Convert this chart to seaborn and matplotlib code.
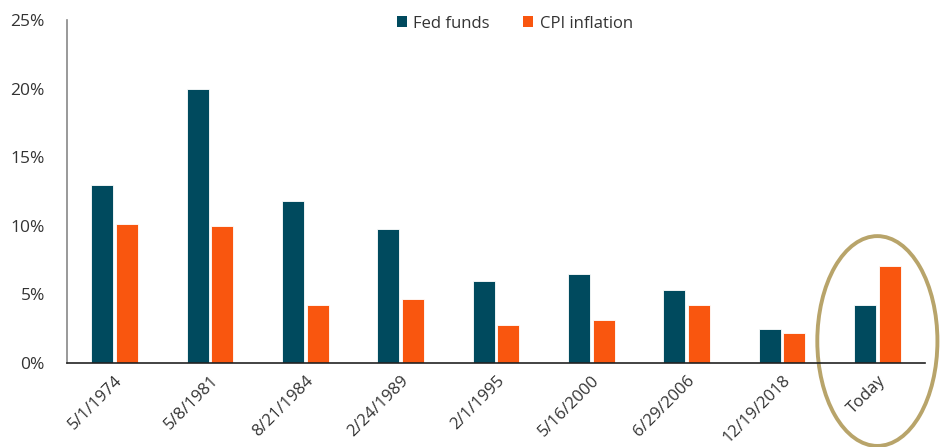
import matplotlib
matplotlib.use("Agg")
import matplotlib.pyplot as plt
from matplotlib.patches import Ellipse, Patch
from matplotlib.ticker import FuncFormatter
import seaborn as sns
import pandas as pd

dates = ["5/1/1974", "5/8/1981", "8/21/1984", "2/24/1989", "2/1/1995",
         "5/16/2000", "6/29/2006", "12/19/2018", "Today"]
fed_funds = [13.0, 20.0, 11.8, 9.8, 6.0, 6.5, 5.3, 2.5, 4.25]
cpi_inflation = [10.1, 10.0, 4.2, 4.7, 2.8, 3.1, 4.2, 2.2, 7.1]
series_names = ["Fed funds", "CPI inflation"]
colors = ["#004A5E", "#F9560F"]

df = pd.DataFrame({
    "date": dates * 2,
    "value": fed_funds + cpi_inflation,
    "series": [series_names[0]] * len(dates) + [series_names[1]] * len(dates),
})

sns.set_theme(style="white")
plt.rcParams["font.family"] = ["Open Sans", "DejaVu Sans"]

fig = plt.figure(figsize=(9.47, 4.47), dpi=100)
ax = fig.add_axes([0.0708, 0.188, 0.906, 0.767])

sns.barplot(data=df, x="date", y="value", hue="series", order=dates,
            hue_order=series_names, palette=colors, saturation=1,
            width=0.514, gap=0.1,
            edgecolor="white", linewidth=0.6, ax=ax, legend=False)

ax.set_ylim(0, 25)
ax.set_xlim(-0.5, len(dates) - 0.5)
ax.set_yticks([0, 5, 10, 15, 20, 25])
ax.yaxis.set_major_formatter(FuncFormatter(lambda v, p: f"{v:.0f}%"))
ax.set_xlabel("")
ax.set_ylabel("")
ax.tick_params(axis="y", labelsize=12.5, labelcolor="#333333", length=0, pad=16)
ax.tick_params(axis="x", labelsize=12, labelcolor="#333333", length=0, pad=7)
for lab in ax.get_xticklabels():
    lab.set_rotation(45)
    lab.set_ha("right")
    lab.set_rotation_mode("anchor")

for s in ["top", "right"]:
    ax.spines[s].set_visible(False)
ax.spines["left"].set_color("#888888")
ax.spines["left"].set_linewidth(1.2)
ax.spines["bottom"].set_color("#222222")
ax.spines["bottom"].set_linewidth(1.2)

handles = [Patch(facecolor=c, edgecolor="none") for c in colors]
ax.legend(handles, series_names, loc="center", bbox_to_anchor=(0.522, 0.99),
          ncol=2, frameon=False, fontsize=12, handlelength=0.6, handleheight=0.6,
          handletextpad=0.4, columnspacing=2.0, labelcolor="#333333")

ell = Ellipse((len(dates) - 1, 1.6), width=1.26, height=15.3, fill=False,
              edgecolor="#B8A46A", linewidth=2.8, clip_on=False)
ax.add_patch(ell)

fig.savefig("out.png", dpi=100)
